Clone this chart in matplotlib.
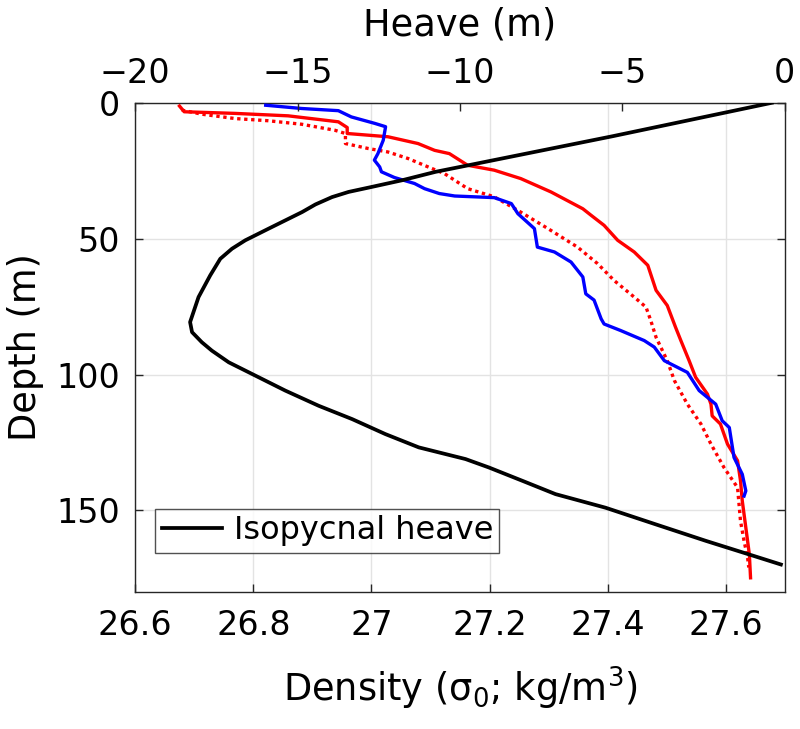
import matplotlib
matplotlib.use("Agg")
import matplotlib.pyplot as plt

# Density profiles (sigma_0, kg/m^3) vs depth (m)
red_depth = [1.2, 3.3, 3.9, 4.8, 7.0, 9.1, 11.3, 12.5, 15.0, 17.5, 18.7, 20.5, 23.0, 24.8, 27.9,
             32.8, 39.0, 41.4, 45.1, 50.6, 54.9, 59.8, 69.0, 74.6, 82.6, 87.5, 94.9, 101.0, 107.2,
             110.9, 115.2, 118.2, 125.6, 131.7, 139.1, 146.5, 156.3, 166.2, 174.8]
red_density = [26.675, 26.683, 26.769, 26.859, 26.944, 26.959, 26.959, 27.028, 27.079, 27.107,
               27.132, 27.145, 27.163, 27.208, 27.253, 27.304, 27.358, 27.372, 27.394, 27.417,
               27.445, 27.468, 27.482, 27.501, 27.515, 27.524, 27.538, 27.549, 27.569, 27.575,
               27.577, 27.591, 27.603, 27.620, 27.625, 27.628, 27.634, 27.640, 27.642]

dot_depth = [2.7, 4.2, 5.8, 6.6, 7.9, 10.1, 11.3, 15.0, 16.8, 18.1, 20.5, 23.6, 26.1, 28.5,
             31.6, 34.6, 39.6, 46.3, 53.1, 59.2, 65.4, 71.5, 75.2, 80.1, 86.3, 94.9, 102.2,
             110.9, 118.2, 125.6, 134.2, 141.6, 146.5, 153.9, 161.2, 167.4, 171.0]
dot_density = [26.679, 26.713, 26.769, 26.825, 26.882, 26.938, 26.956, 26.956, 26.994, 27.028,
               27.062, 27.096, 27.124, 27.141, 27.163, 27.208, 27.248, 27.299, 27.349, 27.383,
               27.411, 27.445, 27.465, 27.473, 27.482, 27.501, 27.513, 27.535, 27.558, 27.575,
               27.597, 27.620, 27.622, 27.625, 27.631, 27.637, 27.639]

blue_depth = [0.9, 2.1, 2.9, 5.2, 7.6, 8.8, 13.8, 18.7, 21.1, 23.6, 25.4, 27.5, 29.7, 31.6,
              33.4, 34.3, 34.9, 37.1, 40.8, 46.3, 53.1, 54.9, 58.6, 64.1, 70.3, 72.6, 79.5,
              81.4, 83.8, 87.5, 89.9, 94.9, 99.2, 105.9, 110.9, 117.0, 119.5, 130.5, 136.7,
              142.8, 144.7]
blue_density = [26.821, 26.882, 26.944, 26.966, 27.006, 27.024, 27.020, 27.011, 27.005, 27.014,
                27.017, 27.039, 27.073, 27.090, 27.115, 27.141, 27.208, 27.237, 27.248, 27.276,
                27.281, 27.310, 27.338, 27.358, 27.363, 27.377, 27.389, 27.394, 27.422, 27.462,
                27.479, 27.496, 27.535, 27.555, 27.583, 27.594, 27.606, 27.614, 27.628, 27.634,
                27.631]

# Isopycnal heave (m) vs depth (m)
heave_depth = [0.0, 12.3, 23.2, 25.4, 28.5, 31.2, 32.8, 34.7, 37.4, 40.2, 46.3, 50.6, 53.7,
               57.4, 63.5, 71.5, 80.7, 84.4, 88.1, 91.2, 95.5, 99.8, 105.9, 111.5, 116.4,
               121.9, 126.8, 131.1, 134.2, 139.1, 144.0, 149.0, 155.1, 161.2, 166.2, 169.9]
heave = [-0.4, -5.3, -9.83, -10.75, -11.78, -12.81, -13.43, -13.94, -14.45, -14.86, -15.89,
         -16.61, -17.02, -17.38, -17.69, -18.05, -18.31, -18.25, -17.95, -17.64, -17.12,
         -16.40, -15.38, -14.35, -13.32, -12.30, -11.27, -9.83, -9.11, -8.08, -7.06, -5.52,
         -3.98, -2.43, -1.10, -0.12]

density_ticks = [26.6, 26.8, 27.0, 27.2, 27.4, 27.6]
density_ticklabels = ["26.6", "26.8", "27", "27.2", "27.4", "27.6"]
heave_ticks = [-20, -15, -10, -5, 0]
heave_ticklabels = ["\u221220", "\u221215", "\u221210", "\u22125", "0"]
depth_ticks = [0, 50, 100, 150]

plt.rcParams['font.family'] = ['DejaVu Sans']
FS = 24
LFS = 26.5
edge = '#262626'

fig = plt.figure(figsize=(8.0, 7.29), dpi=100)
ax = fig.add_axes([0.169, 0.188, 0.812, 0.671])

ax.plot(red_density, red_depth, color='#ff0000', lw=2.4, zorder=3)
ax.plot(dot_density, dot_depth, color='#ff0000', lw=2.4, linestyle=(0, (1, 1.1)), zorder=3)
ax.plot(blue_density, blue_depth, color='#0000ff', lw=2.4, zorder=4)

ax.set_xlim(26.6, 27.7)
ax.set_ylim(180, 0)
ax.set_xticks(density_ticks)
ax.set_xticklabels(density_ticklabels)
ax.set_yticks(depth_ticks)
ax.grid(True, color='#e3e3e3', lw=1.0)
ax.set_axisbelow(True)
ax.tick_params(axis='both', direction='in', length=6, width=1, colors=edge,
               labelcolor='black', labelsize=FS, top=True, right=True)
ax.tick_params(axis='x', labeltop=False, pad=12)
ax.tick_params(axis='y', pad=11)
for s in ax.spines.values():
    s.set_color(edge)
    s.set_linewidth(1.0)
ax.set_xlabel('Density (\u03c3$_0$; kg/m$^3$)', fontsize=LFS, labelpad=17)
ax.set_ylabel('Depth (m)', fontsize=LFS, labelpad=9)

ax2 = ax.twiny()
ax2.plot(heave, heave_depth, color='black', lw=2.7, label='Isopycnal heave', zorder=5)
ax2.set_xlim(-20, 0)
ax2.set_xticks(heave_ticks)
ax2.set_xticklabels(heave_ticklabels)
ax2.tick_params(axis='x', direction='in', length=6, width=1, colors=edge,
                labelcolor='black', labelsize=FS, pad=9)
for s in ax2.spines.values():
    s.set_visible(False)
ax2.set_xlabel('Heave (m)', fontsize=LFS, labelpad=16)
ax2.set_ylim(180, 0)

leg = ax2.legend(loc='lower left', bbox_to_anchor=(0.031, 0.08), fontsize=23,
                 frameon=True, fancybox=False, edgecolor=edge, handlelength=1.9,
                 handletextpad=0.35, borderpad=0.2, borderaxespad=0)
leg.get_frame().set_linewidth(1.0)

fig.savefig('out.png', dpi=100)
